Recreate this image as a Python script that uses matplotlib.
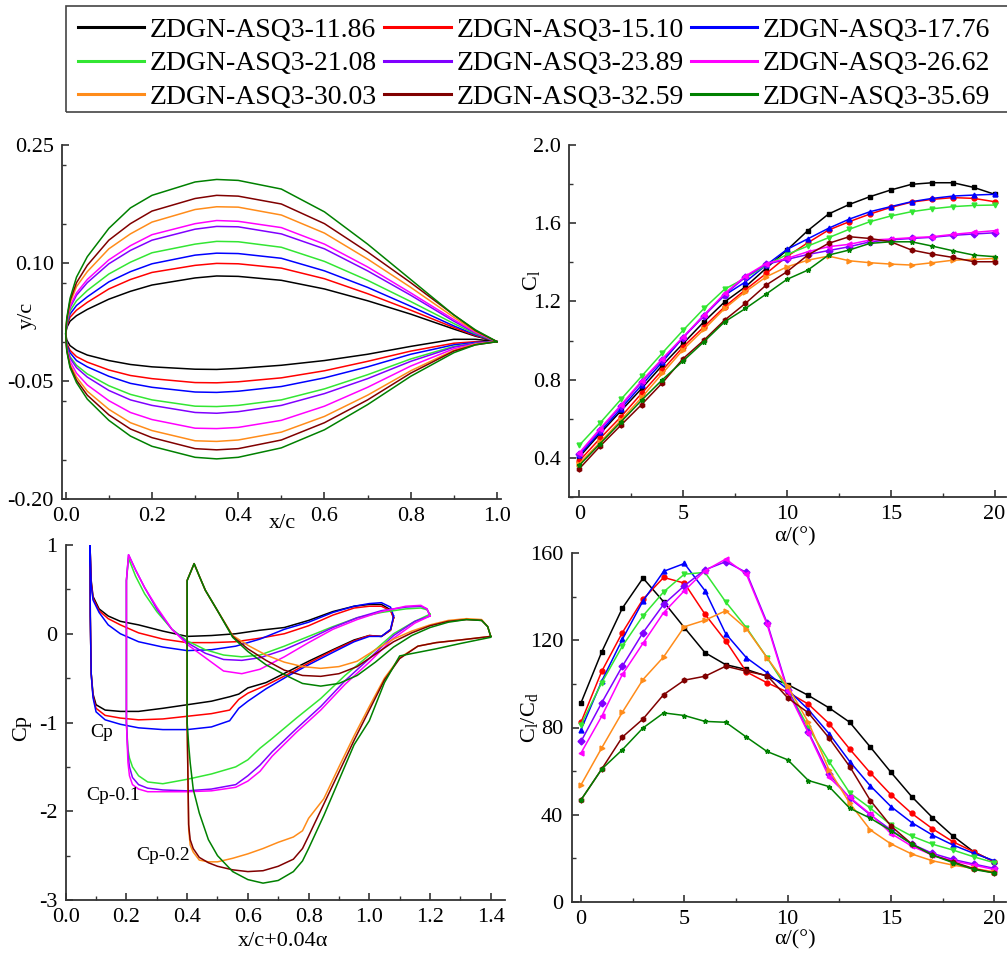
import matplotlib
matplotlib.use("Agg")
import matplotlib.pyplot as plt
from matplotlib.ticker import MultipleLocator
from matplotlib.lines import Line2D
from matplotlib.patches import Rectangle

plt.rcParams["font.family"] = ["Liberation Serif", "DejaVu Serif"]
plt.rcParams["mathtext.fontset"] = "custom"
plt.rcParams["mathtext.rm"] = "Liberation Serif"
plt.rcParams["mathtext.it"] = "Liberation Serif:italic"

# ===========================
# DATA
# ===========================
labels = ["ZDGN-ASQ3-11.86", "ZDGN-ASQ3-15.10", "ZDGN-ASQ3-17.76",
          "ZDGN-ASQ3-21.08", "ZDGN-ASQ3-23.89", "ZDGN-ASQ3-26.62",
          "ZDGN-ASQ3-30.03", "ZDGN-ASQ3-32.59", "ZDGN-ASQ3-35.69"]
colors = ["#000000", "#ff0000", "#0000ff", "#33e633", "#8000ff",
          "#ff00ff", "#ff8c1a", "#800000", "#008000"]
markers = ["s", "o", "^", "v", "D", "<", ">", "h", "*"]

# airfoil shapes (x/c, y/c)
xc = [0, 0.0025, 0.01, 0.025, 0.05, 0.1, 0.15, 0.2, 0.3, 0.35, 0.4, 0.5, 0.6, 0.7, 0.8, 0.9, 0.95, 1.0]
upper = [
    [0.01, 0.018, 0.026, 0.033, 0.041, 0.054, 0.064, 0.072, 0.081, 0.0835, 0.083, 0.078, 0.067, 0.052, 0.035, 0.016, 0.007, 0],
    [0.01, 0.020, 0.031, 0.040, 0.050, 0.067, 0.079, 0.088, 0.097, 0.0995, 0.099, 0.0935, 0.080, 0.061, 0.040, 0.018, 0.0077, 0],
    [0.01, 0.021, 0.035, 0.046, 0.057, 0.076, 0.089, 0.099, 0.110, 0.1125, 0.112, 0.106, 0.090, 0.069, 0.045, 0.020, 0.0087, 0],
    [0.01, 0.022, 0.039, 0.052, 0.065, 0.086, 0.101, 0.113, 0.124, 0.1275, 0.127, 0.120, 0.102, 0.078, 0.051, 0.023, 0.0099, 0],
    [0.01, 0.024, 0.043, 0.059, 0.075, 0.099, 0.116, 0.129, 0.143, 0.1465, 0.146, 0.137, 0.118, 0.090, 0.059, 0.026, 0.011, 0],
    [0.01, 0.025, 0.045, 0.062, 0.079, 0.104, 0.122, 0.136, 0.150, 0.154, 0.153, 0.145, 0.124, 0.095, 0.062, 0.028, 0.012, 0],
    [0.01, 0.027, 0.049, 0.070, 0.089, 0.118, 0.137, 0.152, 0.168, 0.1715, 0.171, 0.161, 0.138, 0.105, 0.069, 0.031, 0.013, 0],
    [0.01, 0.028, 0.052, 0.075, 0.097, 0.129, 0.150, 0.166, 0.182, 0.186, 0.185, 0.175, 0.150, 0.114, 0.075, 0.034, 0.014, 0],
    [0.01, 0.030, 0.055, 0.082, 0.108, 0.144, 0.170, 0.186, 0.203, 0.2062, 0.205, 0.194, 0.165, 0.124, 0.079, 0.034, 0.015, 0],
]
lower = [
    [0.01, 0.002, -0.005, -0.011, -0.017, -0.024, -0.029, -0.032, -0.035, -0.0353, -0.034, -0.030, -0.024, -0.016, -0.006, 0.003, 0.003, 0],
    [0.01, -0.002, -0.011, -0.019, -0.026, -0.036, -0.043, -0.047, -0.052, -0.0523, -0.051, -0.046, -0.037, -0.025, -0.012, -0.002, 0.0, 0],
    [0.01, -0.004, -0.014, -0.024, -0.032, -0.044, -0.053, -0.058, -0.064, -0.0645, -0.063, -0.057, -0.046, -0.032, -0.016, -0.004, -0.001, 0],
    [0.01, -0.006, -0.019, -0.030, -0.041, -0.056, -0.067, -0.074, -0.082, -0.0825, -0.081, -0.074, -0.060, -0.042, -0.022, -0.006, -0.002, 0],
    [0.01, -0.007, -0.021, -0.033, -0.045, -0.062, -0.074, -0.081, -0.090, -0.091, -0.089, -0.081, -0.066, -0.047, -0.025, -0.007, -0.002, 0],
    [0.01, -0.009, -0.025, -0.040, -0.055, -0.075, -0.090, -0.099, -0.110, -0.1105, -0.109, -0.100, -0.082, -0.058, -0.031, -0.009, -0.003, 0],
    [0.01, -0.010, -0.029, -0.045, -0.063, -0.086, -0.103, -0.113, -0.126, -0.1268, -0.125, -0.115, -0.095, -0.068, -0.037, -0.011, -0.003, 0],
    [0.01, -0.011, -0.031, -0.049, -0.068, -0.093, -0.111, -0.122, -0.136, -0.1375, -0.136, -0.125, -0.103, -0.074, -0.040, -0.012, -0.004, 0],
    [0.01, -0.012, -0.033, -0.052, -0.073, -0.100, -0.120, -0.133, -0.147, -0.149, -0.147, -0.135, -0.112, -0.080, -0.044, -0.014, -0.004, 0],
]

# lift coefficient and lift-drag ratio vs angle of attack
alpha = [0, 1, 2, 3, 4, 5, 6, 7, 8, 9, 10, 11, 12, 13, 14, 15, 16, 17, 18, 19, 20]
cl = [
    [0.405, 0.525, 0.64, 0.755, 0.874, 0.985, 1.096, 1.198, 1.275, 1.37, 1.463, 1.562, 1.647, 1.696, 1.736, 1.77, 1.799, 1.807, 1.807, 1.783, 1.748],
    [0.385, 0.50, 0.61, 0.73, 0.849, 0.968, 1.07, 1.173, 1.26, 1.343, 1.43, 1.50, 1.565, 1.608, 1.647, 1.681, 1.708, 1.722, 1.731, 1.727, 1.71],
    [0.414, 0.533, 0.652, 0.772, 0.891, 1.016, 1.13, 1.232, 1.30, 1.386, 1.466, 1.52, 1.574, 1.621, 1.659, 1.685, 1.71, 1.727, 1.739, 1.744, 1.748],
    [0.465, 0.579, 0.699, 0.818, 0.937, 1.053, 1.164, 1.263, 1.32, 1.385, 1.44, 1.483, 1.526, 1.569, 1.608, 1.637, 1.659, 1.674, 1.685, 1.691, 1.693],
    [0.422, 0.545, 0.665, 0.788, 0.903, 1.015, 1.125, 1.235, 1.325, 1.39, 1.415, 1.44, 1.46, 1.48, 1.505, 1.515, 1.522, 1.528, 1.538, 1.545, 1.551],
    [0.426, 0.55, 0.67, 0.794, 0.908, 1.019, 1.13, 1.241, 1.33, 1.394, 1.42, 1.454, 1.48, 1.492, 1.514, 1.519, 1.526, 1.531, 1.543, 1.553, 1.562],
    [0.371, 0.48, 0.593, 0.709, 0.832, 0.954, 1.057, 1.164, 1.25, 1.326, 1.377, 1.411, 1.432, 1.408, 1.398, 1.391, 1.386, 1.398, 1.411, 1.415, 1.42],
    [0.345, 0.46, 0.567, 0.673, 0.784, 0.908, 1.002, 1.105, 1.19, 1.284, 1.352, 1.437, 1.497, 1.531, 1.522, 1.505, 1.463, 1.442, 1.425, 1.403, 1.403],
    [0.362, 0.473, 0.584, 0.695, 0.80, 0.896, 0.994, 1.096, 1.164, 1.238, 1.313, 1.36, 1.437, 1.463, 1.497, 1.505, 1.505, 1.483, 1.459, 1.437, 1.429],
]
clcd = [
    [91.3, 114.6, 134.7, 148.5, 137.6, 125.8, 114.3, 108.8, 106.6, 103.5, 99.7, 94.7, 89.0, 82.4, 71.0, 59.4, 48.3, 38.7, 30.2, 23.0, 18.4],
    [82.4, 105.7, 123.5, 138.8, 148.8, 146.2, 131.9, 119.7, 105.5, 100.5, 96.2, 90.7, 81.8, 70.1, 59.1, 49.1, 40.6, 33.6, 27.6, 23.0, 18.4],
    [79.0, 101.2, 120.4, 138.0, 151.6, 155.2, 142.7, 123.0, 112.0, 105.1, 97.4, 88.2, 77.2, 64.4, 53.2, 43.7, 36.4, 30.7, 26.1, 22.3, 18.9],
    [81.3, 100.5, 117.3, 131.2, 142.2, 150.3, 151.1, 137.6, 125.8, 112.0, 97.4, 80.0, 64.4, 50.0, 43.0, 35.3, 30.2, 26.5, 23.8, 20.7, 18.0],
    [73.6, 91.3, 108.1, 123.5, 136.5, 145.0, 152.3, 156.0, 151.1, 128.1, 97.4, 78.0, 58.7, 47.6, 39.9, 33.0, 26.6, 22.3, 19.5, 17.4, 15.4],
    [68.3, 85.1, 104.3, 118.6, 132.7, 142.7, 151.9, 157.2, 150.3, 127.3, 96.6, 77.5, 57.2, 48.0, 40.3, 31.4, 25.6, 21.5, 18.9, 16.9, 14.9],
    [53.7, 70.6, 87.0, 102.0, 112.4, 126.2, 129.2, 133.5, 125.3, 112.0, 98.9, 82.4, 60.6, 45.3, 33.0, 26.6, 22.0, 18.9, 16.9, 15.4, 13.8],
    [46.8, 60.9, 75.6, 83.9, 95.1, 101.7, 103.5, 108.1, 105.8, 103.8, 93.6, 86.7, 75.2, 62.1, 46.5, 34.8, 26.6, 21.5, 18.4, 15.3, 13.3],
    [46.8, 60.9, 69.8, 79.8, 86.7, 85.5, 82.8, 82.4, 75.6, 69.0, 65.2, 55.7, 52.9, 43.0, 38.4, 32.7, 26.6, 21.5, 18.0, 14.9, 13.3],
]

# pressure distributions, x/c+0.04a ; group 1 (Cp), group 2 (Cp-0.1), group 3 (Cp-0.2)
p1x = [0.08, 0.084, 0.09, 0.11, 0.14, 0.18, 0.24, 0.32, 0.40, 0.48, 0.56, 0.64, 0.72, 0.80, 0.88, 0.95, 1.00, 1.04, 1.07, 1.08]
s1x = [0.08, 0.081, 0.084, 0.09, 0.10, 0.13, 0.18, 0.24, 0.32, 0.40, 0.48, 0.54, 0.57, 0.60, 0.66, 0.73, 0.80, 0.88, 0.95, 1.00, 1.04, 1.07, 1.08]
cp1_pres = [
    [1.0, 0.60, 0.42, 0.28, 0.20, 0.14, 0.10, 0.03, -0.03, -0.02, 0.0, 0.04, 0.07, 0.15, 0.25, 0.31, 0.33, 0.33, 0.27, 0.18],
    [1.0, 0.58, 0.40, 0.26, 0.17, 0.10, 0.01, -0.06, -0.10, -0.10, -0.09, -0.05, 0.0, 0.09, 0.21, 0.29, 0.31, 0.31, 0.26, 0.18],
    [1.0, 0.55, 0.38, 0.24, 0.10, 0.0, -0.09, -0.15, -0.19, -0.18, -0.14, -0.06, 0.05, 0.13, 0.24, 0.31, 0.34, 0.35, 0.30, 0.20],
]
cp1_suct = [
    [1.0, 0.2, -0.45, -0.68, -0.80, -0.86, -0.875, -0.875, -0.84, -0.80, -0.76, -0.71, -0.68, -0.61, -0.55, -0.43, -0.31, -0.18, -0.07, -0.02, -0.03, 0.04, 0.18],
    [1.0, 0.2, -0.45, -0.70, -0.84, -0.92, -0.95, -0.97, -0.96, -0.93, -0.90, -0.86, -0.74, -0.67, -0.58, -0.46, -0.33, -0.19, -0.08, -0.02, -0.03, 0.04, 0.18],
    [1.0, 0.2, -0.45, -0.72, -0.88, -0.97, -1.02, -1.06, -1.08, -1.08, -1.05, -0.98, -0.84, -0.76, -0.62, -0.48, -0.35, -0.21, -0.09, -0.03, -0.03, 0.05, 0.20],
]
p2x = [0.207, 0.23, 0.26, 0.30, 0.35, 0.40, 0.46, 0.52, 0.58, 0.64, 0.72, 0.80, 0.88, 0.96, 1.04, 1.12, 1.17, 1.19, 1.20]
s2x = [0.207, 0.20, 0.20, 0.205, 0.21, 0.22, 0.24, 0.27, 0.32, 0.40, 0.48, 0.56, 0.60, 0.64, 0.68, 0.76, 0.84, 0.92, 1.00, 1.08, 1.15, 1.20]
cp2_pres = [
    [0.85, 0.65, 0.45, 0.25, 0.05, -0.08, -0.18, -0.24, -0.26, -0.24, -0.14, -0.03, 0.08, 0.18, 0.24, 0.28, 0.29, 0.27, 0.22],
    [0.89, 0.72, 0.52, 0.28, 0.05, -0.10, -0.22, -0.29, -0.30, -0.27, -0.18, -0.06, 0.07, 0.18, 0.26, 0.30, 0.31, 0.28, 0.20],
    [0.89, 0.72, 0.52, 0.30, 0.05, -0.12, -0.27, -0.42, -0.45, -0.40, -0.26, -0.10, 0.05, 0.16, 0.25, 0.31, 0.32, 0.28, 0.20],
]
cp2_suct = [
    [0.85, 0.6, -1.0, -1.3, -1.40, -1.50, -1.60, -1.67, -1.69, -1.64, -1.58, -1.50, -1.42, -1.29, -1.18, -0.95, -0.73, -0.47, -0.24, 0.0, 0.14, 0.22],
    [0.89, 0.6, -1.0, -1.35, -1.50, -1.62, -1.70, -1.74, -1.76, -1.77, -1.75, -1.70, -1.60, -1.48, -1.33, -1.07, -0.82, -0.53, -0.28, -0.02, 0.14, 0.20],
    [0.89, 0.6, -1.0, -1.45, -1.60, -1.70, -1.75, -1.78, -1.78, -1.78, -1.77, -1.73, -1.66, -1.55, -1.38, -1.11, -0.86, -0.57, -0.32, -0.05, 0.12, 0.20],
]
p3x = [0.423, 0.44, 0.46, 0.50, 0.55, 0.60, 0.66, 0.72, 0.78, 0.84, 0.90, 0.96, 1.02, 1.08, 1.14, 1.20, 1.26, 1.32, 1.37, 1.39, 1.40]
s3x = [0.423, 0.40, 0.40, 0.405, 0.41, 0.42, 0.44, 0.47, 0.50, 0.55, 0.60, 0.65, 0.70, 0.75, 0.78, 0.80, 0.85, 0.90, 0.95, 1.00, 1.05, 1.10, 1.16, 1.22, 1.30, 1.40]
cp3_pres = [
    [0.79, 0.65, 0.49, 0.26, -0.02, -0.13, -0.24, -0.32, -0.37, -0.39, -0.37, -0.31, -0.18, -0.06, 0.03, 0.10, 0.15, 0.17, 0.16, 0.08, -0.03],
    [0.79, 0.65, 0.49, 0.26, -0.03, -0.17, -0.30, -0.41, -0.47, -0.48, -0.45, -0.37, -0.23, -0.09, 0.01, 0.09, 0.14, 0.16, 0.15, 0.08, -0.03],
    [0.79, 0.65, 0.49, 0.26, -0.04, -0.20, -0.35, -0.46, -0.56, -0.59, -0.56, -0.47, -0.32, -0.15, -0.02, 0.07, 0.13, 0.16, 0.15, 0.08, -0.03],
]
cp3_suct = [
    [0.79, 0.6, -1.0, -2.2, -2.38, -2.46, -2.55, -2.57, -2.57, -2.53, -2.48, -2.42, -2.35, -2.29, -2.22, -2.08, -1.86, -1.50, -1.15, -0.82, -0.50, -0.27, -0.14, -0.10, -0.07, -0.03],
    [0.79, 0.6, -1.0, -2.15, -2.32, -2.42, -2.52, -2.58, -2.62, -2.66, -2.68, -2.67, -2.62, -2.54, -2.42, -2.28, -1.92, -1.56, -1.20, -0.86, -0.52, -0.28, -0.14, -0.10, -0.07, -0.03],
    [0.79, 0.6, -1.0, -1.25, -1.45, -1.75, -2.02, -2.32, -2.50, -2.68, -2.77, -2.81, -2.78, -2.68, -2.56, -2.42, -2.05, -1.65, -1.25, -0.98, -0.55, -0.25, -0.21, -0.17, -0.11, -0.04],
]

# ===========================
# FIGURE
# ===========================
W, H = 1007, 956
fig = plt.figure(figsize=(W / 100, H / 100), dpi=100)


def px_axes(l, t, r, b):
    ax = fig.add_axes([l / W, 1 - b / H, (r - l) / W, (b - t) / H])
    ax.spines["top"].set_visible(False)
    ax.spines["right"].set_visible(False)
    for s in ("left", "bottom"):
        ax.spines[s].set_linewidth(1.3)
        ax.spines[s].set_color("#333333")
    ax.tick_params(which="major", direction="in", length=5, width=1.2,
                   labelsize=16, pad=6, color="#333333")
    ax.tick_params(which="minor", direction="in", length=3, width=1.0, color="#333333")
    return ax


LW = 1.1

# top-left: airfoil shapes
ax1 = px_axes(62, 145, 501, 499)
for i in range(9):
    xs = xc[::-1] + xc[1:]
    ys = upper[i][::-1] + lower[i][1:]
    ax1.plot(xs, ys, color=colors[i], lw=LW)
ax1.set_xlim(-0.0086, 1.0093)
ax1.set_ylim(-0.20, 0.25)
ax1.xaxis.set_major_locator(MultipleLocator(0.2))
ax1.xaxis.set_minor_locator(MultipleLocator(0.1))
ax1.set_yticks([-0.20, -0.05, 0.10, 0.25])
ax1.yaxis.set_minor_locator(MultipleLocator(0.075))
ax1.set_xticklabels(["%.1f" % v for v in ax1.get_xticks()])
ax1.set_yticklabels(["-0.20", "-0.05", "0.10", "0.25"])

# top-right: Cl
ax2 = px_axes(569, 145, 1006, 497)
for i in range(9):
    ax2.plot(alpha, cl[i], color=colors[i], lw=LW, marker=markers[i],
             ms=3.5, mec=colors[i])
ax2.set_xlim(-0.5, 20.55)
ax2.set_ylim(0.2, 2.0)
ax2.xaxis.set_major_locator(MultipleLocator(5))
ax2.xaxis.set_minor_locator(MultipleLocator(2.5))
ax2.set_yticks([0.4, 0.8, 1.2, 1.6, 2.0])
ax2.yaxis.set_minor_locator(MultipleLocator(0.2))
ax2.set_yticklabels(["0.4", "0.8", "1.2", "1.6", "2.0"])

# bottom-left: Cp
ax3 = px_axes(65.7, 545, 505, 900)
groups = [(p1x, s1x, cp1_pres, cp1_suct, 0),
          (p2x, s2x, cp2_pres, cp2_suct, 3),
          (p3x, s3x, cp3_pres, cp3_suct, 6)]
for px_, sx_, pres, suct, k0 in groups:
    for j in range(3):
        xs = sx_[::-1] + px_[1:]
        ys = suct[j][::-1] + pres[j][1:]
        ax3.plot(xs, ys, color=colors[k0 + j], lw=LW)
ax3.set_xlim(0, 1.447)
ax3.set_ylim(-3, 1)
ax3.xaxis.set_major_locator(MultipleLocator(0.2))
ax3.xaxis.set_minor_locator(MultipleLocator(0.1))
ax3.yaxis.set_major_locator(MultipleLocator(1))
ax3.yaxis.set_minor_locator(MultipleLocator(0.5))
ax3.set_xticklabels(["%.1f" % v for v in ax3.get_xticks()])
ax3.set_yticklabels(["%d" % v for v in ax3.get_yticks()])
ax3.text(0.119, -1.11, "Cp", fontsize=14, ha="center", va="center")
ax3.text(0.155, -1.82, "Cp-0.1", fontsize=14, ha="center", va="center")
ax3.text(0.32, -2.50, "Cp-0.2", fontsize=14, ha="center", va="center")

# bottom-right: Cl/Cd
ax4 = px_axes(571.7, 553, 1006, 902)
for i in range(9):
    ax4.plot(alpha, clcd[i], color=colors[i], lw=LW, marker=markers[i],
             ms=3.5, mec=colors[i])
ax4.set_xlim(-0.45, 20.56)
ax4.set_ylim(0, 160)
ax4.xaxis.set_major_locator(MultipleLocator(5))
ax4.xaxis.set_minor_locator(MultipleLocator(2.5))
ax4.yaxis.set_major_locator(MultipleLocator(40))
ax4.yaxis.set_minor_locator(MultipleLocator(20))


# axis labels
def ftext(x, y, s, rot=0):
    fig.text(x / W, 1 - y / H, s, fontsize=16, ha="center", va="center", rotation=rot)


ftext(282, 524, "x/c")
ftext(27, 315, "y/c", 90)
ftext(795, 537, "α/(°)")
ftext(531, 281, r"$\mathrm{C_l}$", 90)
ftext(283, 941, "x/c+0.04α")
ftext(22, 728, "Cp", 90)
ftext(795, 940, "α/(°)")
ftext(530, 718, r"$\mathrm{C_l/C_d}$", 90)

# legend (row-major order like the original)
order = [0, 3, 6, 1, 4, 7, 2, 5, 8]
handles = [Line2D([], [], color=colors[k], lw=2.2) for k in order]
leg = fig.legend(handles, [labels[k] for k in order], loc="upper left",
                 bbox_to_anchor=(66.7 / W, 1 - 6 / H),
                 ncol=3, fontsize=20, frameon=False, borderaxespad=0,
                 handlelength=2.4, handletextpad=0.2, columnspacing=0.25,
                 labelspacing=0.3, borderpad=0.4)
fig.patches.append(Rectangle((66 / W, 1 - 112 / H), 960 / W, 106 / H,
                             transform=fig.transFigure, fill=False,
                             edgecolor="#444444", linewidth=1.2))

fig.savefig("out.png", dpi=100)
